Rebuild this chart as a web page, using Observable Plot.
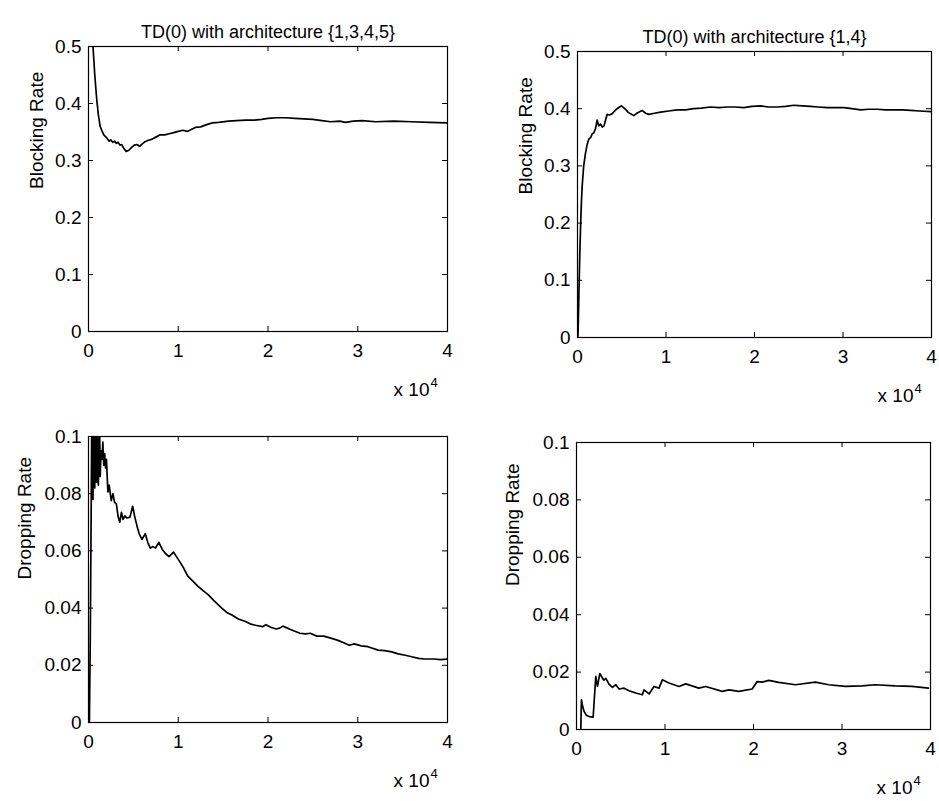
<!DOCTYPE html>
<html>
<head>
<meta charset="utf-8">
<script src="https://cdn.jsdelivr.net/npm/d3@7"></script>
<script src="https://cdn.jsdelivr.net/npm/@observablehq/plot@0.6"></script>
<style>
  html, body { margin: 0; padding: 0; background: #fff; overflow: hidden; }
  #chart { position: relative; width: 939px; height: 801px; background: #fff; }
  #chart svg { position: absolute; max-width: none; }
</style>
</head>
<body>
<div id="chart"></div>
<script>
// ---- text ----
const titleLeft = "TD(0) with architecture {1,3,4,5}";
const titleRight = "TD(0) with architecture {1,4}";
const blockLabel = "Blocking Rate";
const dropLabel = "Dropping Rate";
const xScaleBase = "x 10";
const xScaleExp = "4";

// ---- ticks (x in units of 10^4) ----
const xTicks = [0, 1, 2, 3, 4];
const blockTicks = [0, 0.1, 0.2, 0.3, 0.4, 0.5];
const dropTicks = [0, 0.02, 0.04, 0.06, 0.08, 0.1];

// ---- series: [x (×10^4), rate] ----
const blocking1345 = [
[0.05,0.5],[0.07,0.45],[0.09,0.41],[0.11,0.38],[0.13,0.36],[0.15,0.352],[0.17,0.345],[0.19,0.342],[0.21,0.338],[0.23,0.334],[0.25,0.336],[0.27,0.332],[0.29,0.334],[0.31,0.33],[0.33,0.332],[0.35,0.327],[0.37,0.328],[0.39,0.322],[0.42,0.316],[0.45,0.318],[0.48,0.323],[0.51,0.327],[0.54,0.328],[0.57,0.325],[0.6,0.329],[0.63,0.333],[0.66,0.335],[0.7,0.337],[0.75,0.341],[0.8,0.345],[0.85,0.345],[0.9,0.347],[0.95,0.349],[1.0,0.351],[1.05,0.353],[1.1,0.351],[1.15,0.355],[1.19,0.358],[1.25,0.359],[1.3,0.362],[1.38,0.366],[1.45,0.367],[1.56,0.369],[1.65,0.37],[1.75,0.371],[1.85,0.371],[1.93,0.372],[2.0,0.374],[2.1,0.375],[2.2,0.375],[2.3,0.374],[2.4,0.373],[2.5,0.372],[2.6,0.37],[2.7,0.368],[2.8,0.369],[2.86,0.367],[2.95,0.369],[3.05,0.37],[3.2,0.368],[3.4,0.369],[3.6,0.368],[3.8,0.367],[4.0,0.366]
];
const blocking14 = [
[0.005,0],[0.015,0.07],[0.025,0.14],[0.034,0.19],[0.045,0.24],[0.053,0.265],[0.07,0.3],[0.09,0.322],[0.11,0.338],[0.128,0.347],[0.15,0.35],[0.166,0.356],[0.185,0.358],[0.203,0.365],[0.222,0.38],[0.24,0.37],[0.26,0.373],[0.28,0.368],[0.3,0.37],[0.32,0.382],[0.335,0.39],[0.36,0.389],[0.39,0.391],[0.42,0.396],[0.448,0.4],[0.475,0.403],[0.497,0.405],[0.52,0.402],[0.542,0.399],[0.57,0.394],[0.6,0.391],[0.636,0.388],[0.68,0.393],[0.73,0.397],[0.77,0.392],[0.806,0.39],[0.87,0.392],[0.938,0.394],[1.03,0.396],[1.126,0.398],[1.22,0.398],[1.314,0.4],[1.4,0.401],[1.503,0.403],[1.6,0.402],[1.69,0.403],[1.78,0.403],[1.88,0.402],[1.97,0.404],[2.07,0.405],[2.16,0.403],[2.256,0.403],[2.35,0.404],[2.444,0.406],[2.54,0.405],[2.633,0.404],[2.72,0.403],[2.82,0.402],[2.91,0.402],[3.01,0.402],[3.1,0.4],[3.2,0.398],[3.29,0.399],[3.386,0.399],[3.48,0.398],[3.574,0.398],[3.67,0.398],[3.763,0.397],[3.87,0.396],[3.99,0.395]
];
const dropping1345 = [
[0.01,0],[0.02,0.03],[0.03,0.075],[0.035,0.1],[0.04,0.085],[0.045,0.1],[0.05,0.078],[0.055,0.096],[0.06,0.088],[0.065,0.1],[0.07,0.082],[0.075,0.097],[0.08,0.09],[0.085,0.1],[0.09,0.084],[0.095,0.098],[0.1,0.087],[0.105,0.1],[0.11,0.083],[0.115,0.095],[0.12,0.09],[0.125,0.1],[0.13,0.086],[0.14,0.095],[0.15,0.092],[0.16,0.098],[0.17,0.09],[0.18,0.094],[0.19,0.089],[0.2,0.092],[0.216,0.0806],[0.23,0.083],[0.254,0.0776],[0.273,0.08],[0.29,0.077],[0.31,0.0765],[0.33,0.072],[0.348,0.07],[0.367,0.0735],[0.385,0.071],[0.405,0.0722],[0.43,0.0715],[0.462,0.0718],[0.492,0.0756],[0.515,0.072],[0.538,0.069],[0.565,0.066],[0.595,0.064],[0.633,0.066],[0.66,0.063],[0.689,0.061],[0.72,0.0615],[0.746,0.061],[0.784,0.063],[0.822,0.0605],[0.86,0.059],[0.898,0.058],[0.947,0.0596],[0.98,0.058],[1.011,0.0565],[1.06,0.054],[1.106,0.0512],[1.16,0.0495],[1.22,0.0476],[1.28,0.046],[1.333,0.0447],[1.4,0.0425],[1.485,0.04],[1.54,0.0385],[1.598,0.0376],[1.67,0.0362],[1.75,0.0353],[1.8,0.0345],[1.86,0.034],[1.94,0.0335],[1.977,0.0342],[2.03,0.0333],[2.09,0.0327],[2.13,0.033],[2.167,0.0337],[2.25,0.0325],[2.356,0.0312],[2.42,0.031],[2.47,0.0312],[2.545,0.0302],[2.621,0.0302],[2.7,0.0295],[2.773,0.0288],[2.85,0.0278],[2.905,0.027],[2.962,0.0275],[3.04,0.0268],[3.114,0.0265],[3.227,0.0253],[3.3,0.0251],[3.379,0.0247],[3.45,0.024],[3.53,0.0235],[3.6,0.023],[3.68,0.0224],[3.74,0.0222],[3.85,0.0222],[3.92,0.022],[4.0,0.0222]
];
const dropping14 = [
[0.049,0],[0.052,0.006],[0.056,0.0103],[0.07,0.008],[0.086,0.0063],[0.11,0.005],[0.143,0.0045],[0.188,0.0043],[0.2,0.01],[0.218,0.0185],[0.237,0.015],[0.263,0.0195],[0.293,0.0179],[0.31,0.0172],[0.331,0.0178],[0.368,0.0158],[0.406,0.0147],[0.444,0.0156],[0.481,0.0141],[0.538,0.0144],[0.594,0.0135],[0.669,0.0127],[0.744,0.0121],[0.763,0.0138],[0.82,0.0124],[0.876,0.015],[0.932,0.0144],[0.97,0.0173],[1.045,0.0162],[1.158,0.015],[1.233,0.0159],[1.383,0.0144],[1.459,0.015],[1.647,0.0133],[1.722,0.0138],[1.835,0.0133],[1.985,0.0141],[2.041,0.0167],[2.098,0.0165],[2.173,0.0171],[2.286,0.0164],[2.474,0.0156],[2.7,0.0165],[2.85,0.0156],[3.038,0.015],[3.226,0.0152],[3.376,0.0156],[3.6,0.0152],[3.79,0.015],[3.977,0.0144]
];

const FONT = "'Liberation Sans', Arial, Helvetica, sans-serif";
const chart = document.getElementById("chart");

function panel({frame, data, yTicks, yLabel, labelDx, title}) {
  const [x0, y0, x1, y1] = frame;
  const mL = 80, mT = 46, mR = 8, mB = 80;
  const W = x1 - x0, H = y1 - y0;
  const svg = Plot.plot({
    width: W + mL + mR,
    height: H + mT + mB,
    marginLeft: mL, marginTop: mT, marginRight: mR, marginBottom: mB,
    x: {domain: [0, 4]},
    y: {domain: [yTicks[0], yTicks[yTicks.length - 1]]},
    style: {fontFamily: FONT, fontSize: "19px", color: "black", background: "transparent", overflow: "visible"},
    marks: [
      Plot.line(data, {x: d => d[0], y: d => d[1], stroke: "black", strokeWidth: 1.7, clip: true}),
      Plot.frame({stroke: "black", strokeWidth: 1.2}),
      Plot.tickX(xTicks, {x: d => d, insetTop: H - 5, stroke: "black"}),
      Plot.tickX(xTicks, {x: d => d, insetBottom: H - 5, stroke: "black"}),
      Plot.tickY(yTicks, {y: d => d, insetLeft: W - 5, stroke: "black"}),
      Plot.tickY(yTicks, {y: d => d, insetRight: W - 5, stroke: "black"}),
      Plot.axisX(xTicks, {tickSize: 0, tickPadding: 12, fontSize: 19, tickFormat: d => String(d), label: null}),
      Plot.axisY(yTicks, {tickSize: 0, tickPadding: 7, fontSize: 19, tickFormat: d => String(d), label: null}),
      Plot.text([yLabel], {text: d => d, frameAnchor: "left", dx: labelDx, rotate: -90, lineAnchor: "bottom", fontSize: 19}),
      title ? Plot.text([title], {text: d => d, frameAnchor: "top", dy: -9, lineAnchor: "bottom", fontSize: 18}) : null,
      Plot.text([xScaleBase], {text: d => d, frameAnchor: "bottom-right", dx: -18, dy: 64, textAnchor: "end", lineAnchor: "bottom", fontSize: 19}),
      Plot.text([xScaleExp], {text: d => d, frameAnchor: "bottom-right", dx: -17, dy: 55, textAnchor: "start", lineAnchor: "bottom", fontSize: 13})
    ]
  });
  svg.style.left = (x0 - mL) + "px";
  svg.style.top = (y0 - mT) + "px";
  chart.appendChild(svg);
}

panel({frame: [88, 46, 447, 331], data: blocking1345, yTicks: blockTicks, yLabel: blockLabel, labelDx: -46, title: titleLeft});
panel({frame: [577, 51, 931, 337], data: blocking14, yTicks: blockTicks, yLabel: blockLabel, labelDx: -46, title: titleRight});
panel({frame: [88, 436, 447, 722], data: dropping1345, yTicks: dropTicks, yLabel: dropLabel, labelDx: -58, title: null});
panel({frame: [576, 442, 930, 729], data: dropping14, yTicks: dropTicks, yLabel: dropLabel, labelDx: -58, title: null});
</script>
</body>
</html>
